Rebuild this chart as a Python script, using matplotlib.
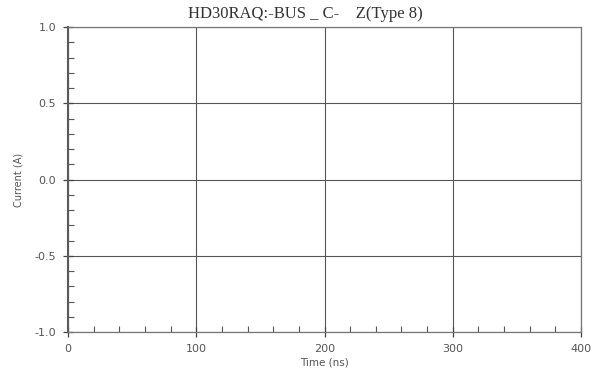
import matplotlib
matplotlib.use("Agg")
import matplotlib.pyplot as plt
from matplotlib.ticker import MultipleLocator

# Оси: время (нс) и ток (А)
x_ticks = [0, 100, 200, 300, 400]
y_ticks = [-1.0, -0.5, 0.0, 0.5, 1.0]
y_labels = ["-1.0", "-0.5", "0.0", "0.5", "1.0"]
x_minor = 20
y_minor = 0.1

title = "HD30RAQ:-BUS _ C-    Z(Type 8)"

fig = plt.figure(figsize=(5.98, 3.70), dpi=100)
ax = fig.add_axes([0.1137, 0.1027, 0.8579, 0.8243])

ax.set_xlim(x_ticks[0], x_ticks[-1])
ax.set_ylim(y_ticks[0], y_ticks[-1])
ax.set_xticks(x_ticks)
ax.set_yticks(y_ticks)
ax.set_yticklabels(y_labels)
ax.xaxis.set_minor_locator(MultipleLocator(x_minor))
ax.yaxis.set_minor_locator(MultipleLocator(y_minor))

ax.grid(True, which="major", color="#555555", lw=0.8)
for s in ax.spines.values():
    s.set_color("#777777")
    s.set_linewidth(0.9)
ax.spines["left"].set_color("#5a5a5a")
ax.spines["left"].set_linewidth(1.5)

ax.tick_params(which="major", direction="inout", length=7, width=0.9,
               color="#444444", labelsize=8, labelcolor="#555555", pad=5)
ax.tick_params(which="minor", direction="in", length=4, width=0.8,
               color="#555555")

ax.set_xlabel("Time (ns)", fontsize=7.5, color="#555555", labelpad=3)
ax.set_ylabel("Current (A)", fontsize=7, color="#555555", labelpad=8)
ax.text(0.462, 1.018, title, transform=ax.transAxes, ha="center", va="bottom",
        fontsize=12, family="Liberation Serif", color="#333333")

fig.savefig("out.png", dpi=100)
